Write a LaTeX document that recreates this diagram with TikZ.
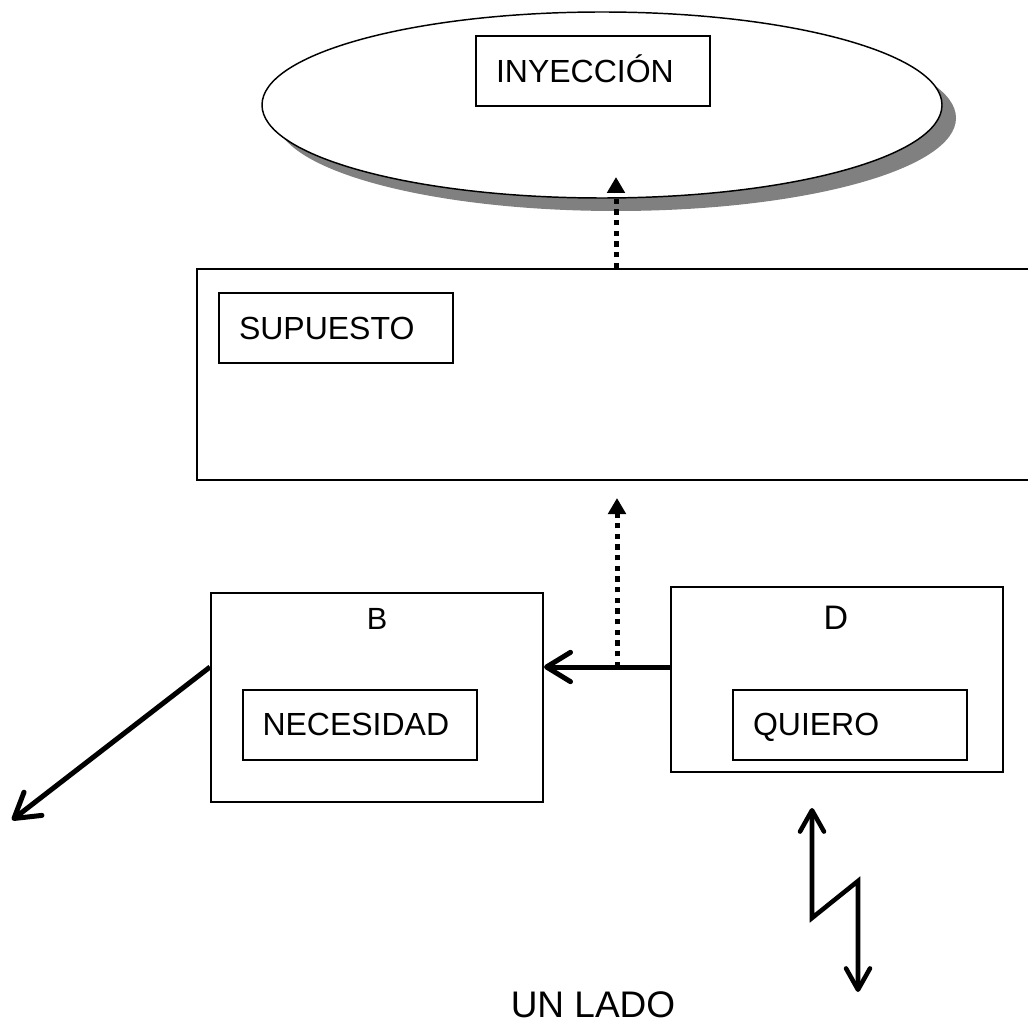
\documentclass[tikz,border=0pt]{standalone}
\usepackage{fontspec}
\setmainfont{Liberation Sans}
\usetikzlibrary{arrows.meta,shapes.geometric,shadows}

\begin{document}
\begin{tikzpicture}[x=0.75pt,y=-0.75pt,
  frame/.style={draw,line width=1.5pt,rectangle,inner sep=0pt},
  inbox/.style={frame,minimum width=175.5pt,minimum height=52.5pt,
    inner xsep=15pt,inner ysep=0pt,text width=145.5pt,align=left,
    font=\fontsize{24}{28}\selectfont,text height=17.2pt,text depth=0pt},
  boxlabel/.style={inner sep=0pt,text depth=0pt},
  dotarrow/.style={line width=3.75pt,dash pattern=on 4pt off 4pt,
    -{Triangle[length=12pt,width=13pt]}},
  thickarrow/.style={line width=3.75pt,-{Straight Barb[length=18pt,width=22pt,round]}},
  zigarrow/.style={line width=3.4pt,line join=miter,
    {Straight Barb[length=16pt,width=18pt,round]}-{Straight Barb[length=16pt,width=18pt,round]}}
]
\useasboundingbox (0,0) rectangle (1028,1023);
\clip (0,0) rectangle (1028,1023);

% top ellipse with its grey shadow
\node[ellipse,draw,line width=1.1pt,fill=white,inner sep=0pt,
  minimum width=510pt,minimum height=139.5pt,
  drop shadow={shadow xshift=10.5pt,shadow yshift=-9.75pt,
    fill={rgb,255:red,128;green,128;blue,128},opacity=1}]
  (ell) at (602,105) {};
\node[inbox] (iny) at (593,71) {INYECCIÓN};

% large box, open past the right side
\node[frame,minimum width=645pt,minimum height=158.25pt] (sup) at (627,374.5) {};
\node[inbox] (supin) at (336,328) {SUPUESTO};

% box B
\node[frame,minimum width=249pt,minimum height=156.75pt] (B) at (377,697.5) {};
\node[boxlabel,font=\fontsize{23}{27}\selectfont,text height=16.5pt] (Blbl) at (377,618) {B};
\node[inbox] (nec) at (359.5,724.5) {NECESIDAD};

% box D
\node[frame,minimum width=249pt,minimum height=138.75pt] (D) at (837,679.5) {};
\node[boxlabel,font=\fontsize{25.5}{30}\selectfont,text height=18.3pt] (Dlbl) at (836,617) {D};
\node[inbox] (qui) at (850,724.5) {QUIERO};

% bottom caption
\node[boxlabel,font=\fontsize{27.75}{32}\selectfont,text height=19.9pt] (lado) at (593,1004) {UN LADO};

% connector points
\coordinate (j) at (617,667);
\coordinate (tipA) at (616,177);
\coordinate (tipB) at (617,498);
\coordinate (tipL) at (12,820);
\coordinate (zUp) at (812,808);
\coordinate (zA) at (812,918);
\coordinate (zB) at (858,881);
\coordinate (zDown) at (858,992);

% connectors
\draw[dotarrow] (sup.north -| tipA) -- (tipA);
\draw[dotarrow] (j) -- (tipB);
\draw[thickarrow] (D.west |- j) -- (B.east |- j);
\draw[thickarrow] (B.west |- j) -- (tipL);
\draw[zigarrow] (zUp) -- (zA) -- (zB) -- (zDown);
\end{tikzpicture}
\end{document}
